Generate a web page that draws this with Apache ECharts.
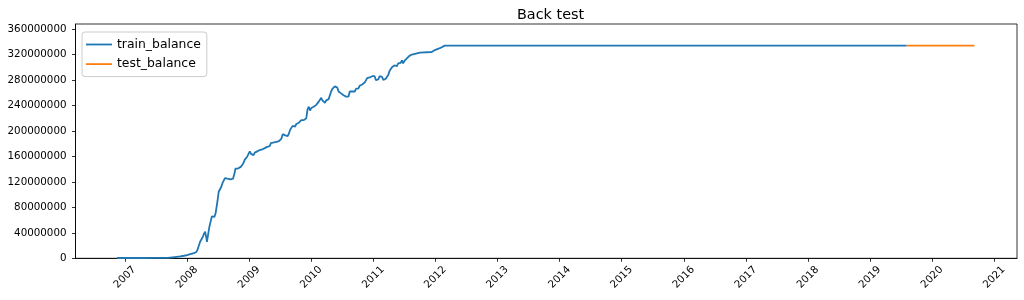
<!DOCTYPE html>
<html>
<head>
<meta charset="utf-8">
<script src="https://cdn.jsdelivr.net/npm/echarts@6/dist/echarts.min.js"></script>
<style>
html,body{margin:0;padding:0;background:#fff;}
#chart{width:1024px;height:300px;}
</style>
</head>
<body>
<div id="chart"></div>
<script>
// [decimal year, balance]
const trainBalance = [
  [2006.87, 0.5e6], [2007.10, 0.5e6], [2007.30, 0.5e6], [2007.50, 0.6e6], [2007.69, 0.8e6],
  [2007.80, 2e6], [2007.89, 3e6], [2007.95, 4e6], [2008.00, 5e6], [2008.05, 6.5e6],
  [2008.08, 6e6], [2008.11, 8e6], [2008.13, 7e6], [2008.15, 10e6], [2008.17, 14e6],
  [2008.19, 20e6], [2008.21, 26e6], [2008.23, 24e6], [2008.25, 33e6], [2008.27, 38e6],
  [2008.29, 42e6], [2008.31, 32e6], [2008.32, 26e6], [2008.34, 38e6], [2008.36, 50e6],
  [2008.38, 58e6], [2008.40, 66e6], [2008.42, 68e6], [2008.44, 65e6], [2008.46, 71e6],
  [2008.48, 70e6], [2008.49, 90e6], [2008.51, 105e6], [2008.53, 108e6], [2008.55, 112e6],
  [2008.57, 118e6], [2008.59, 122e6], [2008.61, 126e6], [2008.63, 128e6], [2008.65, 125e6],
  [2008.67, 127e6], [2008.70, 124e6], [2008.72, 122e6], [2008.74, 125e6], [2008.76, 132e6],
  [2008.78, 141e6], [2008.80, 138e6], [2008.82, 141e6], [2008.85, 139e6], [2008.87, 144e6],
  [2008.89, 142e6], [2008.91, 150e6], [2008.93, 155e6], [2008.95, 153e6], [2008.97, 160e6],
  [2008.99, 164e6], [2009.01, 168e6], [2009.03, 164e6], [2009.05, 166e6], [2009.07, 162e6],
  [2009.09, 166e6], [2009.11, 164e6], [2009.13, 168e6], [2009.15, 166e6], [2009.17, 170e6],
  [2009.19, 168e6], [2009.21, 171e6], [2009.23, 169e6], [2009.25, 173e6], [2009.27, 172e6],
  [2009.29, 175e6], [2009.31, 178e6], [2009.33, 176e6], [2009.35, 181e6], [2009.37, 179e6],
  [2009.40, 182e6], [2009.42, 180e6], [2009.44, 183e6], [2009.46, 181e6], [2009.48, 184e6],
  [2009.50, 186e6], [2009.52, 188e6], [2009.54, 195e6], [2009.56, 197e6], [2009.58, 193e6],
  [2009.60, 196e6], [2009.62, 192e6], [2009.64, 196e6], [2009.66, 202e6], [2009.68, 205e6],
  [2009.70, 208e6], [2009.72, 210e6], [2009.74, 207e6], [2009.76, 211e6], [2009.78, 209e6],
  [2009.80, 213e6], [2009.82, 212e6], [2009.84, 217e6], [2009.86, 214e6], [2009.88, 217e6],
  [2009.90, 215e6], [2009.92, 220e6], [2009.94, 234e6], [2009.96, 238e6], [2009.98, 232e6],
  [2010.00, 236e6], [2010.02, 233e6], [2010.04, 238e6], [2010.06, 236e6], [2010.08, 241e6],
  [2010.10, 243e6], [2010.12, 246e6], [2010.14, 249e6], [2010.16, 252e6], [2010.18, 248e6],
  [2010.20, 246e6], [2010.22, 244e6], [2010.24, 248e6], [2010.26, 245e6], [2010.28, 250e6],
  [2010.30, 256e6], [2010.32, 262e6], [2010.34, 266e6], [2010.36, 268e6], [2010.38, 270e6],
  [2010.40, 272e6], [2010.42, 268e6], [2010.44, 262e6], [2010.46, 260e6], [2010.48, 259e6],
  [2010.50, 261e6], [2010.52, 256e6], [2010.54, 258e6], [2010.56, 254e6], [2010.58, 257e6],
  [2010.60, 254e6], [2010.62, 262e6], [2010.64, 265e6], [2010.66, 262e6], [2010.68, 264e6],
  [2010.70, 262e6], [2010.72, 266e6], [2010.74, 268e6], [2010.76, 267e6], [2010.78, 271e6],
  [2010.80, 270e6], [2010.82, 273e6], [2010.84, 272e6], [2010.86, 276e6], [2010.88, 278e6],
  [2010.90, 283e6], [2010.92, 281e6], [2010.94, 284e6], [2010.96, 282e6], [2010.98, 286e6],
  [2011.00, 283e6], [2011.02, 286e6], [2011.04, 280e6], [2011.06, 283e6], [2011.08, 281e6],
  [2011.10, 286e6], [2011.12, 283e6], [2011.14, 285e6], [2011.16, 280e6], [2011.18, 283e6],
  [2011.20, 282e6], [2011.22, 284e6], [2011.24, 288e6], [2011.26, 294e6], [2011.28, 296e6],
  [2011.30, 300e6], [2011.32, 298e6], [2011.34, 303e6], [2011.36, 305e6], [2011.38, 302e6],
  [2011.40, 306e6], [2011.42, 309e6], [2011.44, 307e6], [2011.46, 311e6], [2011.48, 306e6],
  [2011.50, 310e6], [2011.52, 313e6], [2011.54, 314e6], [2011.56, 316e6], [2011.58, 318e6],
  [2011.60, 317e6], [2011.62, 320e6], [2011.64, 322e6], [2011.75, 323e6], [2011.94, 324e6],
  [2011.99, 327e6], [2012.07, 330e6], [2012.15, 334e6], [2019.59, 334e6]
];
const testBalance = [[2019.59, 334e6], [2020.68, 334e6]];
const xTicks = [2007, 2008, 2009, 2010, 2011, 2012, 2013, 2014, 2015, 2016, 2017, 2018, 2019, 2020, 2021];
const yTicks = [0, 40e6, 80e6, 120e6, 160e6, 200e6, 240e6, 280e6, 320e6, 360e6];

const font = 'DejaVu Sans';

const chart = echarts.init(document.getElementById('chart'), null, {renderer: 'canvas'});
chart.setOption({
  animation: false,
  backgroundColor: '#fff',
  title: {
    text: 'Back test',
    left: 512,
    top: 3,
    textStyle: {fontFamily: font, fontSize: 14.4, fontWeight: 'normal', color: '#000'}
  },
  legend: {
    orient: 'vertical',
    left: 82,
    top: 32,
    padding: [5, 6, 5, 4],
    itemGap: 4.6,
    itemWidth: 26,
    itemHeight: 1.8,
    icon: 'rect',
    borderColor: '#cccccc',
    borderWidth: 1,
    borderRadius: 3,
    backgroundColor: 'rgba(255,255,255,0.8)',
    textStyle: {fontFamily: font, fontSize: 12.4, color: '#000', lineHeight: 15},
    data: ['train_balance', 'test_balance']
  },
  grid: {left: 75.5, right: 7, top: 24, bottom: 41.7, show: true, borderColor: '#000', borderWidth: 0.8, outerBoundsMode: 'none'},
  xAxis: {
    type: 'value',
    min: 2006.203,
    max: 2021.366,
    splitLine: {show: false},
    axisLine: {show: true, onZero: false, lineStyle: {color: '#000', width: 0.8}},
    axisTick: {show: true, length: 3.5, customValues: xTicks, lineStyle: {color: '#000', width: 0.8}},
    axisLabel: {
      customValues: xTicks,
      rotate: 45,
      align: 'center',
      verticalAlign: 'middle',
      margin: 19,
      fontFamily: font,
      fontSize: 10.3,
      color: '#000',
      formatter: v => String(Math.round(v))
    }
  },
  yAxis: {
    type: 'value',
    min: 0,
    max: 368e6,
    interval: 40e6,
    splitLine: {show: false},
    axisLine: {show: true, lineStyle: {color: '#000', width: 0.8}},
    axisTick: {show: true, length: 3.5, customValues: yTicks, lineStyle: {color: '#000', width: 0.8}},
    axisLabel: {
      customValues: yTicks,
      margin: 9,
      fontFamily: font,
      fontSize: 10.3,
      color: '#000',
      formatter: v => String(Math.round(v))
    }
  },
  series: [
    {
      name: 'train_balance',
      type: 'line',
      data: trainBalance,
      showSymbol: false,
      symbol: 'none',
      lineStyle: {color: '#1f77b4', width: 1.8},
      itemStyle: {color: '#1f77b4'}
    },
    {
      name: 'test_balance',
      type: 'line',
      data: testBalance,
      showSymbol: false,
      symbol: 'none',
      lineStyle: {color: '#ff7f0e', width: 1.8},
      itemStyle: {color: '#ff7f0e'}
    }
  ]
});
</script>
</body>
</html>
